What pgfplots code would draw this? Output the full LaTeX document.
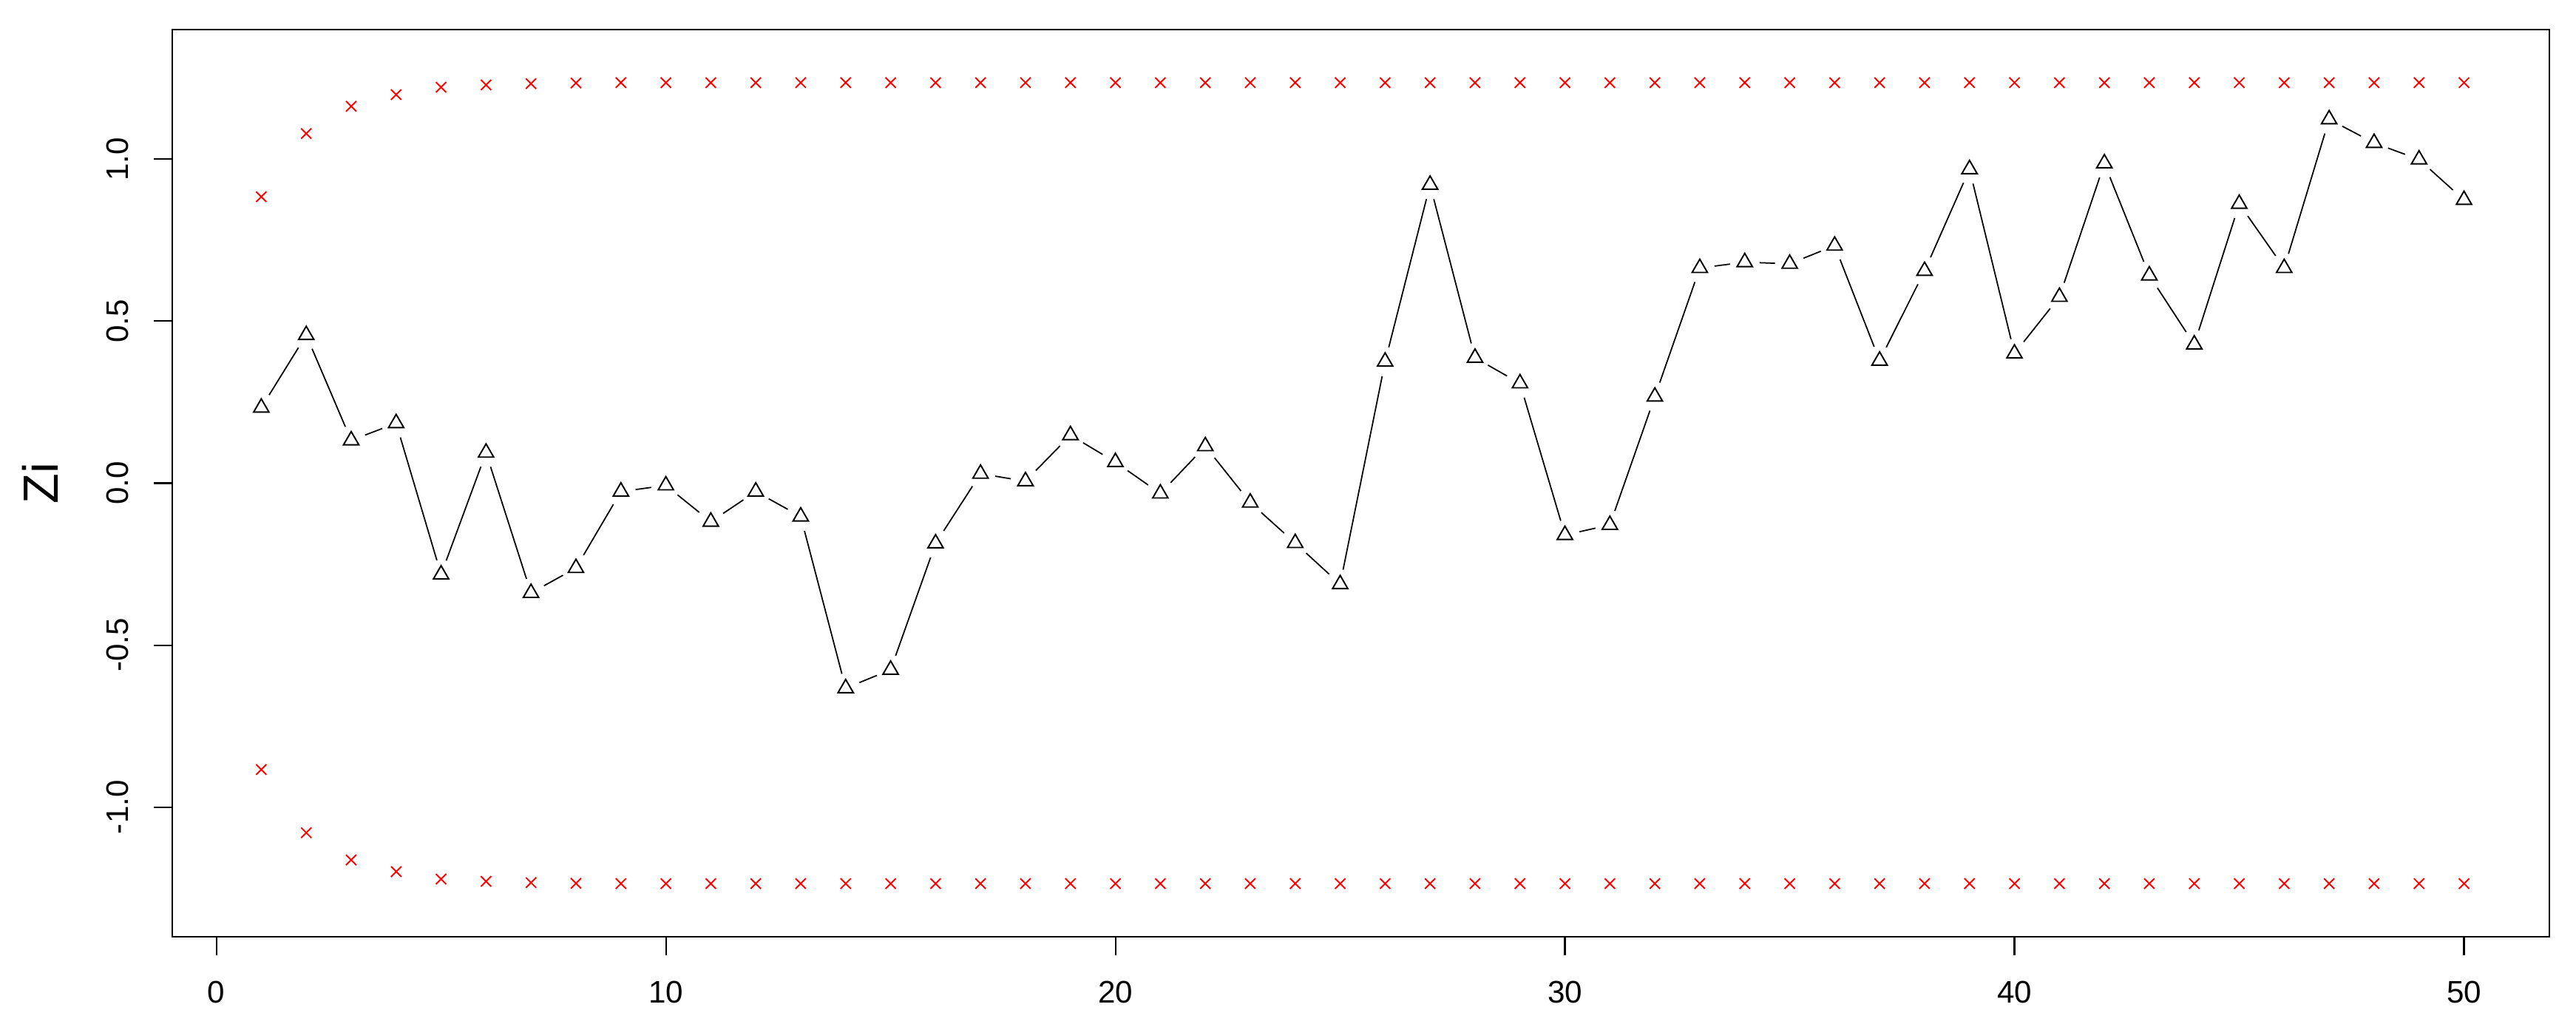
\documentclass[border=0pt]{standalone}
\usepackage{fontspec}
\setmainfont{Liberation Sans}
\usepackage{pgfplots}
\pgfplotsset{compat=1.18}

% Zi (index, value)
\pgfplotstableread{
i   z
1   0.233
2   0.457
3   0.132
4   0.185
5   -0.282
6   0.094
7   -0.339
8   -0.262
9   -0.026
10  -0.007
11  -0.119
12  -0.026
13  -0.103
14  -0.633
15  -0.576
16  -0.186
17  0.029
18  0.006
19  0.148
20  0.065
21  -0.032
22  0.114
23  -0.060
24  -0.185
25  -0.312
26  0.375
27  0.921
28  0.387
29  0.308
30  -0.160
31  -0.129
32  0.267
33  0.664
34  0.682
35  0.677
36  0.733
37  0.378
38  0.655
39  0.969
40  0.400
41  0.575
42  0.987
43  0.641
44  0.428
45  0.862
46  0.664
47  1.123
48  1.050
49  0.999
50  0.874
}\zi

% control limits (upper, lower)
\pgfplotstableread{
i   up     lo
1   0.884  -0.884
2   1.079  -1.079
3   1.163  -1.163
4   1.199  -1.199
5   1.222  -1.222
6   1.229  -1.229
7   1.233  -1.233
8   1.235  -1.235
9   1.236  -1.236
10  1.236  -1.236
11  1.236  -1.236
12  1.236  -1.236
13  1.236  -1.236
14  1.236  -1.236
15  1.236  -1.236
16  1.236  -1.236
17  1.236  -1.236
18  1.236  -1.236
19  1.236  -1.236
20  1.236  -1.236
21  1.236  -1.236
22  1.236  -1.236
23  1.236  -1.236
24  1.236  -1.236
25  1.236  -1.236
26  1.236  -1.236
27  1.236  -1.236
28  1.236  -1.236
29  1.236  -1.236
30  1.236  -1.236
31  1.236  -1.236
32  1.236  -1.236
33  1.236  -1.236
34  1.236  -1.236
35  1.236  -1.236
36  1.236  -1.236
37  1.236  -1.236
38  1.236  -1.236
39  1.236  -1.236
40  1.236  -1.236
41  1.236  -1.236
42  1.236  -1.236
43  1.236  -1.236
44  1.236  -1.236
45  1.236  -1.236
46  1.236  -1.236
47  1.236  -1.236
48  1.236  -1.236
49  1.236  -1.236
50  1.236  -1.236
}\lim

\begin{document}
\begin{tikzpicture}
\begin{axis}[
  name=ax,
  scale only axis,
  width=32.15cm, height=12.27cm,
  xmin=-0.98, xmax=51.9,
  ymin=-1.40, ymax=1.40,
  axis line style={line width=0.7pt},
  tick pos=left,
  tick align=outside,
  major tick length=0.25cm,
  tick style={black, line width=0.6pt},
  xtick={0,10,20,30,40,50},
  xticklabels={0,10,20,30,40,50},
  ytick={-1,-0.5,0,0.5,1},
  yticklabels={-1.0,-0.5,0.0,0.5,1.0},
  ticklabel style={font=\fontsize{12}{14}\selectfont},
  xticklabel style={anchor=center},
  xticklabel shift=0.5cm,
  yticklabel style={rotate=90, anchor=center},
  yticklabel shift=0.49cm,
  ylabel={Zi},
  ylabel style={at={(axis description cs:-0.0557,0.5)}, anchor=center,
    font=\fontsize{19}{22}\selectfont},
]
% connecting line, with R type="b" gaps round the points
\addplot[black, line width=0.5pt, no marks] table[x=i, y=z] {\zi};
\addplot[white, only marks, mark=*, mark size=5.5pt]
  table[x=i, y=z] {\zi};
\addplot[black, only marks, mark=triangle, mark size=3.4pt, mark options={line width=0.55pt}]
  table[x=i, y=z] {\zi};
% limits
\addplot[red, only marks, mark=x, mark size=2.8pt, mark options={line width=0.55pt}]
  table[x=i, y=up] {\lim};
\addplot[red, only marks, mark=x, mark size=2.8pt, mark options={line width=0.55pt}]
  table[x=i, y=lo] {\lim};
\end{axis}
\path ([xshift=-2.33cm, yshift=-1.18cm]ax.south west)
  rectangle ([xshift=0.36cm, yshift=0.40cm]ax.north east);
\end{tikzpicture}
\end{document}
